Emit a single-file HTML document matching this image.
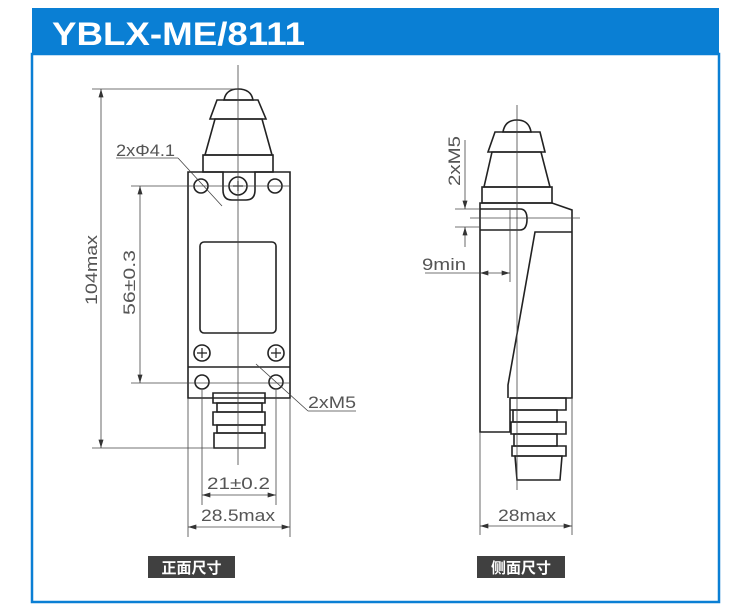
<!DOCTYPE html>
<html><head><meta charset="utf-8"><style>
html,body{margin:0;padding:0;background:#fff;}
svg{display:block;}
</style></head><body>
<svg width="750" height="612" viewBox="0 0 750 612" xmlns="http://www.w3.org/2000/svg">
<rect x="0" y="0" width="750" height="612" fill="#fff"/>
<rect x="32" y="8" width="687" height="47" fill="#0a7fd4"/>
<rect x="32" y="54" width="687" height="548" fill="none" stroke="#0a7fd4" stroke-width="2.5"/>
<text x="52" y="45" font-family="Liberation Sans, sans-serif" font-weight="bold" font-size="32" fill="#fff" textLength="253" lengthAdjust="spacingAndGlyphs">YBLX-ME/8111</text>

<defs>
<marker id="a" viewBox="0 0 10 6" refX="10" refY="3" markerWidth="10" markerHeight="5" orient="auto-start-reverse" markerUnits="userSpaceOnUse"><path d="M0,0 L10,3 L0,6 z" fill="#333"/></marker>
</defs>

<g stroke="#222" fill="none" stroke-width="1.6">
<!-- FRONT VIEW -->
<path d="M224,100 Q226,89 238,89 Q251,89 253,100 Z"/>
<path d="M217,100 L258,100 L266,119 L210,119 Z"/>
<path d="M215,119 L262,119 L272,155 L205,155 Z"/>
<rect x="203" y="155" width="70" height="17"/>
<path d="M188,172 L223,172 L223,190 Q223,200 232,200 L246,200 Q255,200 255,190 L255,172 L290,172 L290,398 L188,398 Z"/>
<rect x="200" y="242" width="76" height="91" rx="4"/>
<circle cx="201" cy="186" r="7"/><circle cx="275" cy="186" r="7"/>
<circle cx="238" cy="186" r="9"/>
<circle cx="202" cy="353" r="8"/><circle cx="276" cy="353" r="8"/>
<circle cx="202" cy="382" r="7"/><circle cx="276" cy="382" r="7"/>
<line x1="188" y1="367" x2="290" y2="367"/>
<path d="M213,393 L265,393 L265,403 L213,403 Z"/>
<path d="M217,403 L262,403 L262,412 L217,412 Z"/>
<path d="M213,412 L265,412 L265,425 L213,425 Z"/>
<path d="M217,425 L262,425 L262,433 L217,433 Z"/>
<path d="M214,433 L265,433 L265,448 L214,448 Z"/>
</g>
<g stroke="#222" stroke-width="1.2" fill="none">
<path d="M233,186 h10 M238,181 v10"/>
<path d="M197,353 h10 M202,348 v10 M271,353 h10 M276,348 v10"/>
</g>
<g stroke="#444" stroke-width="0.8" fill="none">
<line x1="238" y1="65" x2="238" y2="465"/>
<line x1="92" y1="89" x2="238" y2="89"/>
<line x1="92" y1="448" x2="214" y2="448"/>
<line x1="131" y1="186" x2="290" y2="186"/>
<line x1="131" y1="383" x2="290" y2="383"/>
<line x1="101" y1="89" x2="101" y2="448" marker-start="url(#a)" marker-end="url(#a)"/>
<line x1="140" y1="186" x2="140" y2="383" marker-start="url(#a)" marker-end="url(#a)"/>
<line x1="188" y1="398" x2="188" y2="537"/>
<line x1="290" y1="398" x2="290" y2="537"/>
<line x1="202" y1="390" x2="202" y2="505"/>
<line x1="276" y1="390" x2="276" y2="505"/>
<line x1="202" y1="495" x2="276" y2="495" marker-start="url(#a)" marker-end="url(#a)"/>
<line x1="188" y1="527" x2="290" y2="527" marker-start="url(#a)" marker-end="url(#a)"/>
<line x1="116" y1="158" x2="178" y2="158"/>
<line x1="178" y1="158" x2="222" y2="206"/>
<line x1="308" y1="411" x2="356" y2="411"/>
<line x1="308" y1="411" x2="256" y2="364"/>
</g>
<g font-family="Liberation Sans, sans-serif" font-size="17" fill="#555" lengthAdjust="spacingAndGlyphs">
<text x="116" y="156" textLength="59" lengthAdjust="spacingAndGlyphs">2xΦ4.1</text>
<text x="308" y="408" textLength="48" lengthAdjust="spacingAndGlyphs">2xM5</text>
<text x="207" y="489" textLength="63" lengthAdjust="spacingAndGlyphs">21±0.2</text>
<text x="201" y="521" textLength="74" lengthAdjust="spacingAndGlyphs">28.5max</text>
<text transform="translate(97,305) rotate(-90)" textLength="70" lengthAdjust="spacingAndGlyphs">104max</text>
<text transform="translate(135,315) rotate(-90)" textLength="65" lengthAdjust="spacingAndGlyphs">56±0.3</text>
<text transform="translate(460,186) rotate(-90)" textLength="50" lengthAdjust="spacingAndGlyphs">2xM5</text>
<text x="422" y="270" textLength="44" lengthAdjust="spacingAndGlyphs">9min</text>
<text x="498" y="521" textLength="58" lengthAdjust="spacingAndGlyphs">28max</text>
</g>

<!-- SIDE VIEW -->
<g stroke="#222" fill="none" stroke-width="1.6">
<path d="M503,132 Q505,120 517,120 Q529,120 531,132 Z"/>
<path d="M495,132 L540,132 L545,152 L488,152 Z"/>
<path d="M492,152 L541,152 L550,187 L484,187 Z"/>
<rect x="482" y="187" width="70" height="16"/>
<path d="M480,203 L552,203 L572,210 L572,398 L510,398 L510,432 L480,432 Z"/>
<path d="M572,232 L535,232 L508,385 L508,398"/>
<path d="M480,209 L520,209 Q527,209 527,219 Q527,230 520,230 L480,230"/>
<path d="M510,398 L566,398 L566,410 L510,410"/>
<path d="M513,410 L557,410 L557,422 L513,422 Z"/>
<path d="M511,422 L566,422 L566,434 L511,434 Z"/>
<path d="M514,434 L557,434 L557,446 L514,446 Z"/>
<path d="M512,446 L566,446 L566,456 L512,456 Z"/>
<path d="M515,456 L562,456 L560,480 L517,480 Z"/>
</g>
<g stroke="#444" stroke-width="0.8" fill="none">
<line x1="517" y1="105" x2="517" y2="490"/>
<line x1="470" y1="218" x2="580" y2="218"/>
<line x1="455" y1="209" x2="480" y2="209"/>
<line x1="455" y1="227" x2="480" y2="227"/>
<line x1="465" y1="140" x2="465" y2="209" marker-end="url(#a)"/>
<line x1="465" y1="247" x2="465" y2="227" marker-end="url(#a)"/>
<line x1="510" y1="210" x2="510" y2="282"/>
<line x1="425" y1="273" x2="480" y2="273"/>
<line x1="480" y1="273" x2="510" y2="273" marker-start="url(#a)" marker-end="url(#a)"/>
<line x1="480" y1="432" x2="480" y2="535"/>
<line x1="572" y1="398" x2="572" y2="535"/>
<line x1="480" y1="526" x2="572" y2="526" marker-start="url(#a)" marker-end="url(#a)"/>
</g>

<rect x="148" y="556" width="87" height="22" fill="#404040"/>
<text x="191.5" y="573" text-anchor="middle" font-family="Liberation Sans, Noto Sans CJK SC, sans-serif" font-weight="bold" font-size="15" fill="#fff">正面尺寸</text>
<rect x="477" y="556" width="88" height="22" fill="#404040"/>
<text x="521" y="573" text-anchor="middle" font-family="Liberation Sans, Noto Sans CJK SC, sans-serif" font-weight="bold" font-size="15" fill="#fff">侧面尺寸</text>
</svg>
</body></html>
